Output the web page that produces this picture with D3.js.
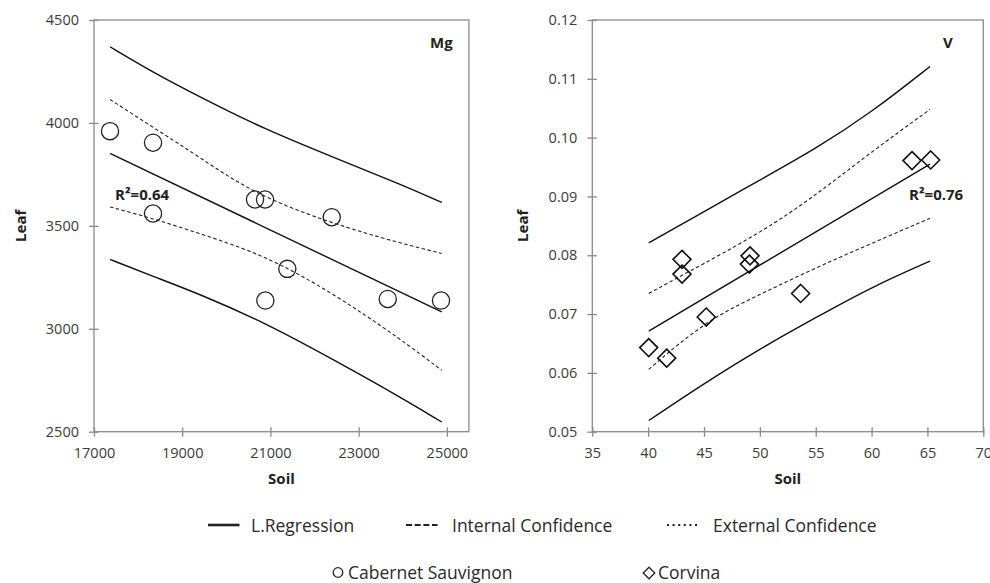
<!DOCTYPE html>
<html>
<head>
<meta charset="utf-8">
<script src="https://cdn.jsdelivr.net/npm/d3@7"></script>
<style>
  html, body { margin: 0; padding: 0; background: #fff; }
  svg { display: block; font-family: "Open Sans", sans-serif; }
</style>
</head>
<body>
<svg id="chart" width="990" height="583"></svg>
<script>
// ---- Mg panel (Cabernet Sauvignon) ----
const mgSoil = [17363, 18338, 18338, 20651, 20878, 22390, 21383, 20885, 23660, 24868];
const mgLeaf = [3960, 3904, 3560, 3628, 3628, 3542, 3291, 3137, 3145, 3137];
const mgRegSoil = [17363, 24884];
const mgRegLeaf = [3852, 3082];
const mgExtUpSoil = [17363, 18345, 19404, 20878, 22427, 23938, 24884];
const mgExtUpLeaf = [4370, 4245, 4126, 3968, 3833, 3703, 3614];
const mgExtLoSoil = [17363, 18345, 19404, 20878, 22427, 23938, 24884];
const mgExtLoLeaf = [3337, 3254, 3168, 3029, 2850, 2669, 2547];
const mgIntUpSoil = [17363, 18345, 19404, 20651, 22389, 23938, 24884];
const mgIntUpLeaf = [4114, 3978, 3832, 3652, 3512, 3416, 3366];
const mgIntLoSoil = [17363, 18345, 19404, 20878, 22427, 23938, 24884];
const mgIntLoLeaf = [3592, 3535, 3462, 3357, 3172, 2952, 2798];
const mgXTicks = [17000, 19000, 21000, 23000, 25000];
const mgYTicks = [2500, 3000, 3500, 4000, 4500];

// ---- V panel (Corvina) ----
const vSoil = [40.05, 41.66, 43.03, 43.03, 45.2, 49.12, 49.06, 53.65, 63.62, 65.29];
const vLeaf = [0.0643, 0.0625, 0.0793, 0.0768, 0.0695, 0.0799, 0.0785, 0.0735, 0.0961, 0.0962];
const vRegSoil = [40.05, 65.23];
const vRegLeaf = [0.0671, 0.0955];
const vExtUpSoil = [40.05, 45, 50, 55, 60, 65.23];
const vExtUpLeaf = [0.0821, 0.0874, 0.0928, 0.0981, 0.1043, 0.1121];
const vExtLoSoil = [40.05, 45, 50, 55, 60, 65.23];
const vExtLoLeaf = [0.0519, 0.0582, 0.0641, 0.0694, 0.0746, 0.0790];
const vIntUpSoil = [40.05, 43.03, 50, 55, 60, 65.23];
const vIntUpLeaf = [0.0735, 0.0766, 0.0837, 0.0902, 0.0976, 0.1048];
const vIntLoSoil = [40.05, 45.24, 50, 55, 60, 65.23];
const vIntLoLeaf = [0.0606, 0.0690, 0.0733, 0.0779, 0.0820, 0.0863];
const vXTicks = [35, 40, 45, 50, 55, 60, 65, 70];
const vYTicks = [0.05, 0.06, 0.07, 0.08, 0.09, 0.10, 0.11, 0.12];

const legendLines = ["L.Regression", "Internal Confidence", "External Confidence"];
const legendMarkers = ["Cabernet Sauvignon", "Corvina"];

const svg = d3.select("#chart");
const zip = (xs, ys) => xs.map((x, i) => [x, ys[i]]);

const panels = [
  {
    name: "Mg", r2: "R\u00B2=0.64", marker: "circle",
    left: 94, right: 468.9, top: 20, bottom: 431.7,
    xDomain: [17000, 25500], yDomain: [2500, 4500],
    xTicks: mgXTicks, yTicks: mgYTicks, yFmt: d3.format("d"),
    pts: zip(mgSoil, mgLeaf),
    reg: zip(mgRegSoil, mgRegLeaf),
    ext: [zip(mgExtUpSoil, mgExtUpLeaf), zip(mgExtLoSoil, mgExtLoLeaf)],
    int: [zip(mgIntUpSoil, mgIntUpLeaf), zip(mgIntLoSoil, mgIntLoLeaf)],
    labelX: 430, r2X: 115, leafX: 26
  },
  {
    name: "V", r2: "R\u00B2=0.76", marker: "diamond",
    left: 592.3, right: 983.3, top: 20, bottom: 431.7,
    xDomain: [35, 70], yDomain: [0.05, 0.12],
    xTicks: vXTicks, yTicks: vYTicks, yFmt: d3.format(".2f"),
    pts: zip(vSoil, vLeaf),
    reg: zip(vRegSoil, vRegLeaf),
    ext: [zip(vExtUpSoil, vExtUpLeaf), zip(vExtLoSoil, vExtLoLeaf)],
    int: [zip(vIntUpSoil, vIntUpLeaf), zip(vIntLoSoil, vIntLoLeaf)],
    labelX: 943, r2X: 909, leafX: 528
  }
];

const diamondPath = (r) => `M0,${-r}L${r},0L0,${r}L${-r},0Z`;

panels.forEach(p => {
  const x = d3.scaleLinear().domain(p.xDomain).range([p.left, p.right]);
  const y = d3.scaleLinear().domain(p.yDomain).range([p.bottom, p.top]);
  const g = svg.append("g");

  // plot frame
  g.append("rect")
    .attr("x", p.left).attr("y", p.top)
    .attr("width", p.right - p.left).attr("height", p.bottom - p.top)
    .attr("fill", "none").attr("stroke", "#8a8a8a").attr("stroke-width", 1.3);

  // axes with ticks crossing the frame
  const xAxis = g.append("g")
    .attr("transform", `translate(0,${p.bottom})`)
    .call(d3.axisBottom(x).tickValues(p.xTicks).tickSize(5).tickPadding(11).tickFormat(d3.format("d")));
  const yAxis = g.append("g")
    .attr("transform", `translate(${p.left},0)`)
    .call(d3.axisLeft(y).tickValues(p.yTicks).tickSize(5).tickPadding(10).tickFormat(p.yFmt));
  [xAxis, yAxis].forEach(a => {
    a.select(".domain").remove();
    a.selectAll(".tick line").attr("stroke", "#8a8a8a").attr("stroke-width", 1.3);
    a.selectAll(".tick text").attr("fill", "#3a3a3a").style("font-size", "14.5px").style("font-family", "Open Sans");
  });
  xAxis.selectAll(".tick line").attr("y1", -4.5);
  yAxis.selectAll(".tick line").attr("x1", 4.5);

  const straight = d3.line().x(d => x(d[0])).y(d => y(d[1]));
  const smooth = d3.line().x(d => x(d[0])).y(d => y(d[1])).curve(d3.curveBasis);

  // regression line
  g.append("path").attr("d", straight(p.reg))
    .attr("fill", "none").attr("stroke", "#111").attr("stroke-width", 1.4);
  // outer band (solid)
  p.ext.forEach(c => g.append("path").attr("d", smooth(c))
    .attr("fill", "none").attr("stroke", "#111").attr("stroke-width", 1.4));
  // inner band (dashed)
  p.int.forEach(c => g.append("path").attr("d", smooth(c))
    .attr("fill", "none").attr("stroke", "#222").attr("stroke-width", 1.1)
    .attr("stroke-dasharray", "3.5,2.5"));

  // observations
  if (p.marker === "circle") {
    g.selectAll("circle.pt").data(p.pts).join("circle").attr("class", "pt")
      .attr("cx", d => x(d[0])).attr("cy", d => y(d[1])).attr("r", 8.6)
      .attr("fill", "none").attr("stroke", "#222").attr("stroke-width", 1.3);
  } else {
    g.selectAll("path.pt").data(p.pts).join("path").attr("class", "pt")
      .attr("d", diamondPath(9))
      .attr("transform", d => `translate(${x(d[0])},${y(d[1])})`)
      .attr("fill", "none").attr("stroke", "#111").attr("stroke-width", 1.6);
  }

  // titles and labels
  g.append("text").attr("x", p.labelX).attr("y", 47.5)
    .style("font-weight", "bold").style("font-size", "15px").attr("fill", "#222").text(p.name);
  g.append("text").attr("x", p.r2X).attr("y", 200)
    .style("font-weight", "bold").style("font-size", "15px").attr("fill", "#222").text(p.r2);
  g.append("text").attr("x", (p.left + p.right) / 2).attr("y", 484).attr("text-anchor", "middle")
    .style("font-weight", "bold").style("font-size", "15px").attr("fill", "#222").text("Soil");
  g.append("text")
    .attr("transform", `translate(${p.leafX},${(p.top + p.bottom) / 2}) rotate(-90)`)
    .attr("text-anchor", "middle")
    .style("font-weight", "bold").style("font-size", "15px").attr("fill", "#222").text("Leaf");
});

// ---- legend ----
const lg = svg.append("g").style("font-size", "17.5px").attr("fill", "#2a2a2a");
const row1 = [
  { sx: 208, tx: 251, dash: null, w: 2.6 },
  { sx: 406, tx: 452, dash: "6,2.67", w: 2 },
  { sx: 667, tx: 713, dash: "2,3.6", w: 2 }
];
row1.forEach((r, i) => {
  const seg = lg.append("line").attr("x1", r.sx).attr("x2", r.sx + 31.5)
    .attr("y1", 525).attr("y2", 525).attr("stroke", "#222").attr("stroke-width", r.w);
  if (r.dash) seg.attr("stroke-dasharray", r.dash);
  lg.append("text").attr("x", r.tx).attr("y", 532).text(legendLines[i]);
});
lg.append("circle").attr("cx", 338).attr("cy", 572.5).attr("r", 4.8)
  .attr("fill", "none").attr("stroke", "#222").attr("stroke-width", 1.3);
lg.append("text").attr("x", 348).attr("y", 579).text(legendMarkers[0]);
lg.append("path").attr("d", diamondPath(5.8)).attr("transform", "translate(649,573)")
  .attr("fill", "none").attr("stroke", "#222").attr("stroke-width", 1.3);
lg.append("text").attr("x", 658).attr("y", 579).text(legendMarkers[1]);
</script>
</body>
</html>
